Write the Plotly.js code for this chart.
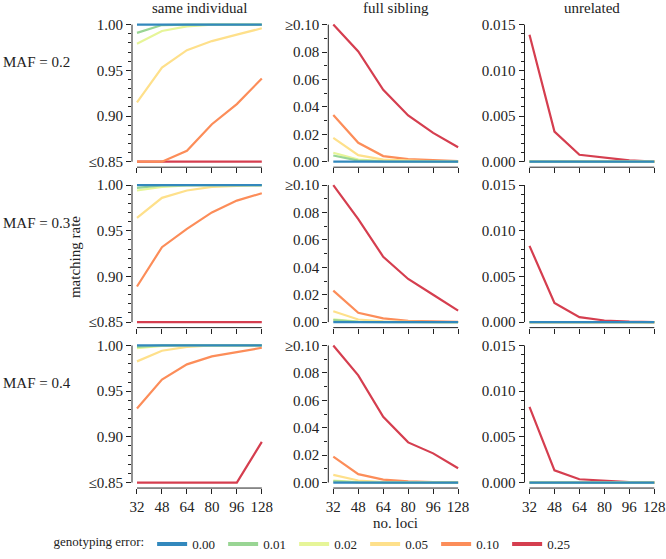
<!DOCTYPE html>
<html>
<head>
<meta charset="utf-8">
<script src="https://cdn.plot.ly/plotly-3.0.1.min.js"></script>
<style>
  html, body { margin: 0; padding: 0; background: #fff; }
  #chart { width: 666px; height: 559px; }
</style>
</head>
<body>
<div id="chart"></div>
<script>
// number of loci on the x axis (evenly spaced positions)
var LOCI = [32, 48, 64, 80, 96, 128];
var ERRORS = ['0.00', '0.01', '0.02', '0.05', '0.10', '0.25'];
var COLORS = ['#3288BD', '#99D594', '#E6F598', '#FEE08B', '#FC8D59', '#D53E4F'];
var ROW_LABELS = ['MAF = 0.2', 'MAF = 0.3', 'MAF = 0.4'];
var COL_TITLES = ['same individual', 'full sibling', 'unrelated'];

// matching rate, one row per genotyping error (0.00 ... 0.25)
var sameMaf2 = [
    [1, 1, 1, 1, 1, 1],
    [0.991, 0.9995, 1, 1, 1, 1],
    [0.979, 0.993, 0.998, 1, 1, 1],
    [0.915, 0.953, 0.972, 0.982, 0.989, 0.996],
    [0.85, 0.85, 0.862, 0.891, 0.913, 0.941],
    [0.85, 0.85, 0.85, 0.85, 0.85, 0.85]
];
var sibMaf2 = [
    [0, 0, 0, 0, 0, 0],
    [0.0045, 0.0008, 0.0002, 0, 0, 0],
    [0.0065, 0.0015, 0.0004, 0.0001, 0, 0],
    [0.0174, 0.0048, 0.0015, 0.0008, 0.0003, 0.0001],
    [0.0341, 0.0138, 0.0041, 0.0019, 0.0012, 0.0005],
    [0.10, 0.0804, 0.0525, 0.0337, 0.021, 0.0106]
];
var unrelMaf2 = [
    [0, 0, 0, 0, 0, 0],
    [0, 0, 0, 0, 0, 0],
    [0, 0, 0, 0, 0, 0],
    [0, 0, 0, 0, 0, 0],
    [0, 0, 0, 0, 0, 0],
    [0.0139, 0.0033, 0.00076, 0.00047, 0.00015, 0]
];

var sameMaf3 = [
    [1, 1, 1, 1, 1, 1],
    [0.997, 0.9995, 1, 1, 1, 1],
    [0.994, 0.998, 0.9995, 1, 1, 1],
    [0.964, 0.986, 0.994, 0.998, 0.999, 1],
    [0.889, 0.932, 0.952, 0.970, 0.983, 0.991],
    [0.85, 0.85, 0.85, 0.85, 0.85, 0.85]
];
var sibMaf3 = [
    [0, 0, 0, 0, 0, 0],
    [0.0015, 0.0002, 0, 0, 0, 0],
    [0.002, 0.0004, 0.0001, 0, 0, 0],
    [0.008, 0.0019, 0.0005, 0.0001, 0, 0],
    [0.023, 0.0068, 0.0027, 0.001, 0.0005, 0.0002],
    [0.10, 0.0751, 0.0477, 0.0315, 0.020, 0.0084]
];
var unrelMaf3 = [
    [0, 0, 0, 0, 0, 0],
    [0, 0, 0, 0, 0, 0],
    [0, 0, 0, 0, 0, 0],
    [0, 0, 0, 0, 0, 0],
    [0, 0, 0, 0, 0, 0],
    [0.00835, 0.0021, 0.00054, 0.00018, 0.00005, 0]
];

var sameMaf4 = [
    [1, 1, 1, 1, 1, 1],
    [0.9985, 1, 1, 1, 1, 1],
    [0.997, 0.9995, 1, 1, 1, 1],
    [0.9826, 0.9942, 0.9985, 1, 1, 1],
    [0.931, 0.9626, 0.9793, 0.988, 0.9927, 0.9975],
    [0.85, 0.85, 0.85, 0.85, 0.85, 0.8945]
];
var sibMaf4 = [
    [0, 0, 0, 0, 0, 0],
    [0.0008, 0.0001, 0, 0, 0, 0],
    [0.0015, 0.0003, 0.0001, 0, 0, 0],
    [0.0056, 0.0015, 0.0004, 0.0001, 0, 0],
    [0.0189, 0.0061, 0.0022, 0.0008, 0.0003, 0.0001],
    [0.10, 0.0782, 0.0479, 0.0293, 0.0213, 0.0104]
];
var unrelMaf4 = [
    [0, 0, 0, 0, 0, 0],
    [0, 0, 0, 0, 0, 0],
    [0, 0, 0, 0, 0, 0],
    [0, 0, 0, 0, 0, 0],
    [0, 0, 0, 0, 0, 0],
    [0.00828, 0.00134, 0.00036, 0.00018, 0.00005, 0]
];

var PANELS = [
    [sameMaf2, sibMaf2, unrelMaf2],
    [sameMaf3, sibMaf3, unrelMaf3],
    [sameMaf4, sibMaf4, unrelMaf4]
];

// y axis per column
var Y_TICKS = [
    [0.85, 0.90, 0.95, 1.00],
    [0, 0.02, 0.04, 0.06, 0.08, 0.10],
    [0, 0.005, 0.010, 0.015]
];
var Y_TICKTEXT = [
    ['≤0.85', '0.90', '0.95', '1.00'],
    ['0.00', '0.02', '0.04', '0.06', '0.08', '≥0.10'],
    ['0.000', '0.005', '0.010', '0.015']
];
var Y_MINOR = [0.01, 0.01, 0.001];

(function () {
    var W = 666, H = 559;
    var INK = '#222';
    var FONT = { family: 'Liberation Serif, Times New Roman, serif', size: 15, color: INK };
    var LEGEND_FONT = { family: FONT.family, size: 13, color: INK };
    // plot-region geometry in px (R style: 4% padding around the data)
    var COL_LEFT = [132, 328.3, 524.5], COL_W = 134.8;
    var ROW_TOP = [19.2, 180.2, 341.2], ROW_H = 148.6;

    var traces = [], shapes = [], annotations = [];
    var layout = {
        width: W, height: H, margin: { l: 0, r: 0, t: 0, b: 0 },
        paper_bgcolor: '#fff', plot_bgcolor: '#fff',
        font: FONT, showlegend: true,
        legend: {
            orientation: 'h', x: 315 / W, xanchor: 'center', y: 1 - 546 / H, yanchor: 'middle',
            title: { text: 'genotyping error:', side: 'left', font: LEGEND_FONT },
            font: LEGEND_FONT, itemwidth: 30, entrywidth: 26, entrywidthmode: 'pixels',
        },
    };

    var cats = LOCI.map(String);

    for (var r = 0; r < 3; r++) {
        for (var c = 0; c < 3; c++) {
            var n = r * 3 + c + 1;
            var xs = n === 1 ? 'x' : 'x' + n, ys = n === 1 ? 'y' : 'y' + n;
            var xk = n === 1 ? 'xaxis' : 'xaxis' + n, yk = n === 1 ? 'yaxis' : 'yaxis' + n;
            var ticks = Y_TICKS[c];
            var lo = ticks[0], hi = ticks[ticks.length - 1], pad = (hi - lo) * 0.04;

            layout[xk] = {
                type: 'category', anchor: ys,
                domain: [COL_LEFT[c] / W, (COL_LEFT[c] + COL_W) / W],
                range: [-0.2, LOCI.length - 0.8],
                showgrid: false, zeroline: false, showline: false,
                ticks: 'outside', ticklen: 5, tickwidth: 1, tickcolor: INK,
                showticklabels: r === 2, tickfont: FONT, fixedrange: true,
            };
            layout[yk] = {
                anchor: xs,
                domain: [1 - (ROW_TOP[r] + ROW_H) / H, 1 - ROW_TOP[r] / H],
                range: [lo - pad, hi + pad],
                tickmode: 'array', tickvals: ticks, ticktext: Y_TICKTEXT[c],
                showgrid: false, zeroline: false, showline: false,
                ticks: 'outside', ticklen: 5, tickwidth: 1, tickcolor: INK,
                minor: { tickmode: 'linear', tick0: 0, dtick: Y_MINOR[c], ticks: 'outside',
                         ticklen: 3, tickwidth: 1, tickcolor: INK, showgrid: false },
                tickfont: FONT, fixedrange: true,
            };

            // R-style axis lines spanning first to last tick only
            shapes.push({ type: 'line', xref: xs + ' domain', x0: 0, x1: 0, yref: ys, y0: lo, y1: hi,
                          line: { color: INK, width: 1 } });
            shapes.push({ type: 'line', xref: xs, x0: 0, x1: LOCI.length - 1, yref: ys + ' domain', y0: 0, y1: 0,
                          line: { color: INK, width: 1 } });

            // draw the largest error first so 0.00 ends on top
            var series = PANELS[r][c];
            for (var e = series.length - 1; e >= 0; e--) {
                traces.push({
                    type: 'scatter', mode: 'lines', x: cats, y: series[e],
                    xaxis: xs, yaxis: ys, showlegend: false, hoverinfo: 'skip',
                    line: { color: COLORS[e], width: 2.2 },
                });
            }
        }
    }

    // legend entries (thicker swatches, no data)
    ERRORS.forEach(function (err, e) {
        traces.push({
            type: 'scatter', mode: 'lines', x: [null], y: [null], xaxis: 'x', yaxis: 'y',
            name: err, showlegend: true, hoverinfo: 'skip',
            line: { color: COLORS[e], width: 4 },
        });
    });

    COL_TITLES.forEach(function (t, c) {
        annotations.push({ text: t, xref: 'paper', yref: 'paper', showarrow: false,
            x: (COL_LEFT[c] + COL_W / 2) / W, y: 1 - 8 / H, xanchor: 'center', yanchor: 'middle', font: FONT });
    });
    ROW_LABELS.forEach(function (t, r) {
        annotations.push({ text: t, xref: 'paper', yref: 'paper', showarrow: false,
            x: 1 / W, y: 1 - (62.7 + 161 * r) / H, xanchor: 'left', yanchor: 'middle', font: FONT });
    });
    annotations.push({ text: 'matching rate', xref: 'paper', yref: 'paper', showarrow: false, textangle: -90,
        x: 75 / W, y: 1 - 258 / H, xanchor: 'center', yanchor: 'middle', font: FONT });
    annotations.push({ text: 'no. loci', xref: 'paper', yref: 'paper', showarrow: false,
        x: (COL_LEFT[1] + COL_W / 2) / W, y: 1 - 525 / H, xanchor: 'center', yanchor: 'middle', font: FONT });

    layout.shapes = shapes;
    layout.annotations = annotations;

    Plotly.newPlot('chart', traces, layout, { displayModeBar: false, staticPlot: true });
})();
</script>
</body>
</html>
